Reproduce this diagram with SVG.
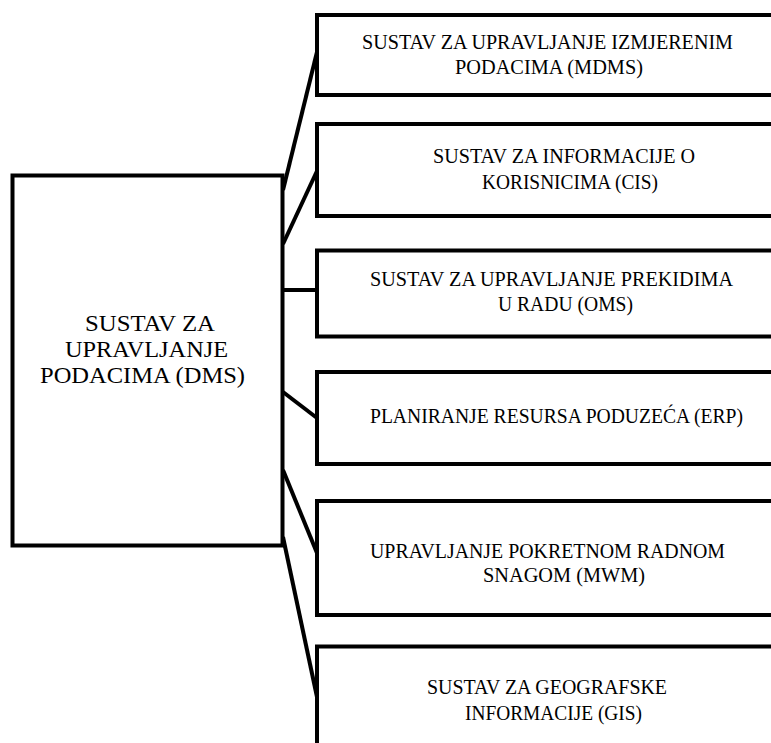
<svg xmlns="http://www.w3.org/2000/svg" width="771" height="743" viewBox="0 0 771 743">
<style>
.box{fill:#fff;stroke:#000;stroke-width:4}
.t{font-family:'Liberation Serif',Tinos,'Times New Roman',Times,'DejaVu Serif',serif;font-size:20px;fill:#000;text-anchor:middle}
.tl{font-family:'Liberation Serif',Tinos,'Times New Roman',Times,'DejaVu Serif',serif;font-size:24px;fill:#000;text-anchor:middle}
.c{stroke:#000;stroke-width:4;fill:none}
</style>
<rect width="771" height="743" fill="#fff"/>
<g id="connectors">
<line class="c" x1="283" y1="190" x2="317" y2="52"/>
<line class="c" x1="283" y1="244" x2="317" y2="171"/>
<line class="c" x1="283" y1="290" x2="317" y2="290"/>
<line class="c" x1="283" y1="392" x2="317" y2="418"/>
<line class="c" x1="283" y1="470" x2="317" y2="553"/>
<line class="c" x1="283" y1="537" x2="317" y2="697"/>
</g>
<g id="dms">
<rect class="box" x="12.5" y="175.5" width="270" height="370"/>
<text class="tl" x="150" y="331" textLength="130" lengthAdjust="spacingAndGlyphs">SUSTAV ZA</text>
<text class="tl" x="146.5" y="357" textLength="163" lengthAdjust="spacingAndGlyphs">UPRAVLJANJE</text>
<text class="tl" x="142.5" y="383" textLength="205" lengthAdjust="spacingAndGlyphs">PODACIMA (DMS)</text>
</g>
<g id="mdms">
<rect class="box" x="317" y="15" width="460" height="80"/>
<text class="t" x="547.5" y="49" textLength="371" lengthAdjust="spacingAndGlyphs">SUSTAV ZA UPRAVLJANJE IZMJERENIM</text>
<text class="t" x="549" y="74" textLength="188" lengthAdjust="spacingAndGlyphs">PODACIMA (MDMS)</text>
</g>
<g id="cis">
<rect class="box" x="317" y="124" width="460" height="92"/>
<text class="t" x="564" y="163" textLength="262" lengthAdjust="spacingAndGlyphs">SUSTAV ZA INFORMACIJE O</text>
<text class="t" x="570" y="189" textLength="176" lengthAdjust="spacingAndGlyphs">KORISNICIMA (CIS)</text>
</g>
<g id="oms">
<rect class="box" x="317" y="250.5" width="460" height="86"/>
<text class="t" x="551.5" y="286" textLength="363" lengthAdjust="spacingAndGlyphs">SUSTAV ZA UPRAVLJANJE PREKIDIMA</text>
<text class="t" x="565.5" y="311" textLength="135" lengthAdjust="spacingAndGlyphs">U RADU (OMS)</text>
</g>
<g id="erp">
<rect class="box" x="317" y="372" width="460" height="92"/>
<text class="t" x="556.5" y="423" textLength="373" lengthAdjust="spacingAndGlyphs">PLANIRANJE RESURSA PODUZEĆA (ERP)</text>
</g>
<g id="mwm">
<rect class="box" x="317" y="501" width="460" height="114"/>
<text class="t" x="547.5" y="558" textLength="355" lengthAdjust="spacingAndGlyphs">UPRAVLJANJE POKRETNOM RADNOM</text>
<text class="t" x="564" y="582" textLength="162" lengthAdjust="spacingAndGlyphs">SNAGOM (MWM)</text>
</g>
<g id="gis">
<rect class="box" x="317" y="646.5" width="460" height="120"/>
<text class="t" x="547" y="694" textLength="240" lengthAdjust="spacingAndGlyphs">SUSTAV ZA GEOGRAFSKE</text>
<text class="t" x="553.5" y="720" textLength="177" lengthAdjust="spacingAndGlyphs">INFORMACIJE (GIS)</text>
</g>
</svg>
